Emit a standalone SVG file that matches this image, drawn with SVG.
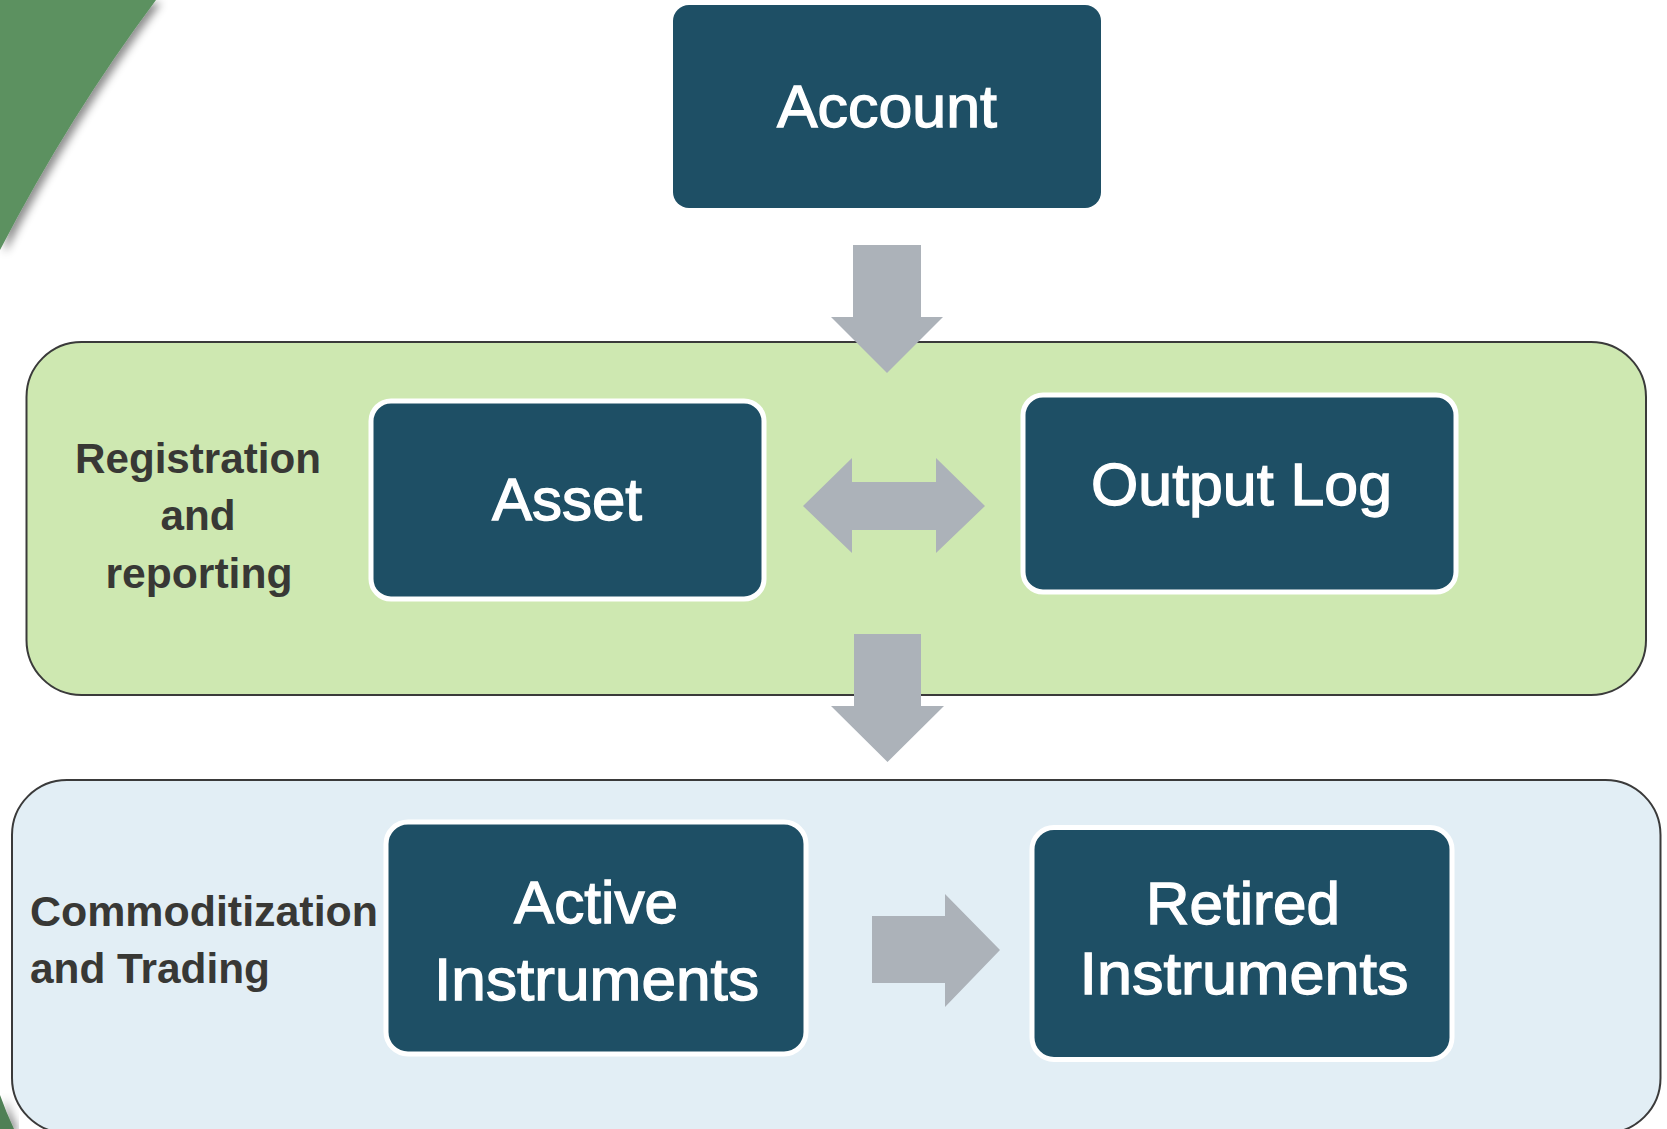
<svg xmlns="http://www.w3.org/2000/svg" width="1667" height="1129" viewBox="0 0 1667 1129">
<style>
.box{fill:#1e4f65;stroke:#ffffff;stroke-width:5}
.btxt{fill:#ffffff;stroke:#ffffff;stroke-width:1.3;font-family:"Liberation Sans",Arial,sans-serif;font-size:60px;text-anchor:middle}
.lbl{fill:#383835;font-family:"Liberation Sans",Arial,sans-serif;font-size:43px;font-weight:bold}
.panel{stroke:#3a3a3a;stroke-width:2}
.arr{fill:#acb2b9}
</style>
<defs>
<filter id="sh" x="-20%" y="-20%" width="150%" height="150%">
<feDropShadow dx="5" dy="3" stdDeviation="4" flood-color="#000" flood-opacity="0.45"/>
</filter>
</defs>
<rect width="1667" height="1129" fill="#ffffff"/>
<g id="background">
<path d="M0,0 L156,0 Q70,115 0,250 Z" fill="#5b9160" filter="url(#sh)"/>
<path d="M0,1095 Q6,1112 14,1129 L0,1129 Z" fill="#4f8055" filter="url(#sh)"/>
</g>
<g id="panel-registration">
<rect class="panel" x="26.5" y="342" width="1619.5" height="353" rx="55" ry="55" fill="#cee8b1"/>
<text class="lbl" x="198" y="473" text-anchor="middle" textLength="246" lengthAdjust="spacingAndGlyphs">Registration</text>
<text class="lbl" x="198" y="530" text-anchor="middle" textLength="75" lengthAdjust="spacingAndGlyphs">and</text>
<text class="lbl" x="199" y="588" text-anchor="middle" textLength="187" lengthAdjust="spacingAndGlyphs">reporting</text>
</g>
<g id="panel-commoditization">
<rect class="panel" x="12" y="780" width="1648.5" height="353" rx="55" ry="55" fill="#e2eef5"/>
<text class="lbl" x="30" y="926" textLength="348" lengthAdjust="spacingAndGlyphs">Commoditization</text>
<text class="lbl" x="30" y="983" textLength="240" lengthAdjust="spacingAndGlyphs">and Trading</text>
</g>
<g id="connectors">
<polygon class="arr" points="853,245 921,245 921,317 943,317 887,373 831,317 853,317"/>
<polygon class="arr" points="803,506 852,458 852,482 936,482 936,458 985,506 936,553 936,530 852,530 852,553"/>
<polygon class="arr" points="854,634 921,634 921,706 944,706 887.5,762 831,706 854,706"/>
<polygon class="arr" points="872,916 945,916 945,894 1000,950 945,1007 945,983 872,983"/>
</g>
<g id="node-account">
<rect x="673" y="5" width="428" height="203" rx="16" ry="16" fill="#1e4f65"/>
<text class="btxt" x="887" y="127" textLength="220" lengthAdjust="spacingAndGlyphs">Account</text>
</g>
<g id="node-asset">
<rect class="box" x="371" y="401" width="393" height="198" rx="20" ry="20"/>
<text class="btxt" x="567" y="520" textLength="150" lengthAdjust="spacingAndGlyphs">Asset</text>
</g>
<g id="node-output-log">
<rect class="box" x="1023" y="395" width="433" height="197" rx="20" ry="20"/>
<text class="btxt" x="1241.5" y="505" textLength="301" lengthAdjust="spacingAndGlyphs">Output Log</text>
</g>
<g id="node-active-instruments">
<rect class="box" x="386" y="822" width="420" height="232" rx="22" ry="22"/>
<text class="btxt" x="596" y="923" textLength="164" lengthAdjust="spacingAndGlyphs">Active</text>
<text class="btxt" x="596.5" y="1000" textLength="325" lengthAdjust="spacingAndGlyphs">Instruments</text>
</g>
<g id="node-retired-instruments">
<rect class="box" x="1032" y="827.5" width="420" height="232" rx="22" ry="22"/>
<text class="btxt" x="1243" y="924" textLength="194" lengthAdjust="spacingAndGlyphs">Retired</text>
<text class="btxt" x="1244" y="994" textLength="329" lengthAdjust="spacingAndGlyphs">Instruments</text>
</g>
</svg>
